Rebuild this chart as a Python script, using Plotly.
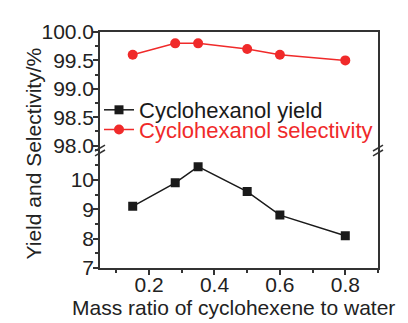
import plotly.graph_objects as go

mass_ratio = [0.15, 0.28, 0.35, 0.5, 0.6, 0.8]
yield_pct = [9.1, 9.9, 10.45, 9.6, 8.8, 8.1]
selectivity_pct = [99.6, 99.8, 99.8, 99.7, 99.6, 99.5]

x_ticks = [0.2, 0.4, 0.6, 0.8]
y_low_ticks = [7, 8, 9, 10]
y_high_ticks = [98.0, 98.5, 99.0, 99.5, 100.0]

BLACK = "#1a1a1a"
RED = "#f02a2a"
AX = "#333333"
FONT = "Liberation Sans, Arial, sans-serif"

# page body has an 8px margin, so the figure is drawn 8px in from the corner
W, H = 400, 315
ML, MR, MT, MB = 92, 30, 21, 55
PW, PH = W - ML - MR, H - MT - MB
SPLIT = 119 / PH

fig = go.Figure()
fig.add_trace(go.Scatter(
    x=mass_ratio, y=yield_pct, mode="lines+markers", name="Cyclohexanol yield",
    line=dict(color=BLACK, width=1.5), marker=dict(symbol="square", size=9, color=BLACK),
    xaxis="x", yaxis="y", legend="legend"))
fig.add_trace(go.Scatter(
    x=mass_ratio, y=selectivity_pct, mode="lines+markers",
    name="Cyclohexanol selectivity",
    line=dict(color=RED, width=1.5), marker=dict(symbol="circle", size=10, color=RED),
    xaxis="x2", yaxis="y2", legend="legend2"))

axis_common = dict(showline=True, linecolor=AX, linewidth=1.5, showgrid=False,
                   zeroline=False, tickcolor=AX, tickwidth=1.5,
                   tickfont=dict(family=FONT, size=21, color="#222"))

leg_x = (91 - ML) / PW
fig.update_layout(
    width=W, height=H, margin=dict(l=ML, r=MR, t=MT, b=MB),
    paper_bgcolor="white", plot_bgcolor="white",
    font=dict(family=FONT, size=21, color="#222"),
    xaxis=dict(range=[0.05, 0.9], tickvals=x_ticks, ticks="outside", ticklen=5,
               ticklabelstandoff=-8,
               minor=dict(dtick=0.1, tick0=0, ticks="outside", ticklen=3, tickcolor=AX, tickwidth=1.5),
               anchor="y", **axis_common),
    xaxis2=dict(range=[0.05, 0.9], matches="x", anchor="y2", side="top",
                showticklabels=False, ticks="", showline=True, linecolor=AX, linewidth=1.5,
                showgrid=False, zeroline=False),
    yaxis=dict(domain=[0, SPLIT], range=[7, 11.0], tickvals=y_low_ticks, ticks="outside",
               ticklen=5, mirror=True, anchor="x", ticklabelstandoff=-5,
               minor=dict(dtick=0.5, tick0=7, ticks="outside", ticklen=3, tickcolor=AX, tickwidth=1.5),
               **axis_common),
    yaxis2=dict(domain=[SPLIT, 1], range=[100 - 120 / 57.5, 100.0], tickvals=y_high_ticks,
                ticktext=["%.1f" % v for v in y_high_ticks], ticks="outside", ticklen=5,
                mirror=True, anchor="x2", ticklabelstandoff=-5,
                minor=dict(dtick=0.25, tick0=98, ticks="outside", ticklen=3, tickcolor=AX, tickwidth=1.5),
                **axis_common),
    showlegend=True,
    legend=dict(x=leg_x, y=(H - MB - 100) / PH, xanchor="left", yanchor="middle",
                bgcolor="rgba(0,0,0,0)", font=dict(family=FONT, size=22, color=BLACK),
                itemwidth=30),
    legend2=dict(x=leg_x, y=(H - MB - 120) / PH, xanchor="left", yanchor="middle",
                 bgcolor="rgba(0,0,0,0)", font=dict(family=FONT, size=22, color=RED),
                 itemwidth=30),
)

# axis titles
fig.add_annotation(text="Yield and Selectivity/%", textangle=-90, xref="paper", yref="paper",
                   x=(25 - ML) / PW, y=(H - MB - 144) / PH, xanchor="center", yanchor="middle",
                   showarrow=False, font=dict(family=FONT, size=21, color="#222"))
fig.add_annotation(text="Mass ratio of cyclohexene to water", xref="paper", yref="paper",
                   x=(225 - ML) / PW, y=(H - MB - 300) / PH, xanchor="center", yanchor="middle",
                   showarrow=False, font=dict(family=FONT, size=21, color="#222"))

# axis break marks
px = 1.0 / PW
py = 1.0 / PH
for xb in (0.0, 1.0):
    for d in (-2.5, 2.5):
        fig.add_shape(type="line", xref="paper", yref="paper",
                      x0=xb - 5 * px, y0=SPLIT + (d - 3) * py,
                      x1=xb + 5 * px, y1=SPLIT + (d + 3) * py,
                      line=dict(color=AX, width=1.5))

fig.write_html("out.html")
